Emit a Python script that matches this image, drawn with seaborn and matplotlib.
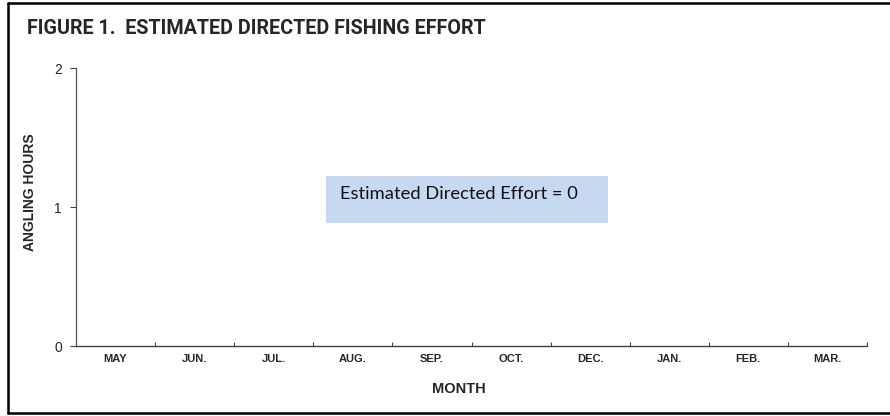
import numpy as np
import pandas as pd
import matplotlib
matplotlib.use("Agg")
import matplotlib.pyplot as plt
import seaborn as sns
from matplotlib.patches import Rectangle
from matplotlib.lines import Line2D

# data: directed effort is zero for every month
months = ["MAY", "JUN.", "JUL.", "AUG.", "SEP.", "OCT.", "DEC.", "JAN.", "FEB.", "MAR."]
angling_hours = [0, 0, 0, 0, 0, 0, 0, 0, 0, 0]
y_ticks = [0, 1, 2]
title = "FIGURE 1.  ESTIMATED DIRECTED FISHING EFFORT"
note = "Estimated Directed Effort = 0"

sns.set_theme(style="white")
plt.rcParams["font.family"] = ["Liberation Sans", "DejaVu Sans"]

df = pd.DataFrame({"month": months, "hours": angling_hours})

fig = plt.figure(figsize=(8.9, 4.16), dpi=100)
ax = fig.add_axes([76 / 890, 70 / 416, 791 / 890, 278 / 416])

sns.barplot(data=df, x="month", y="hours", color="#4F81BD", ax=ax)

ax.set_ylim(0, 2)
ax.set_xlim(-0.5, len(months) - 0.5)
ax.set_yticks(y_ticks)
ax.set_yticklabels([str(v) for v in y_ticks], fontsize=10)

# tick marks on category boundaries, labels centred under each category
ax.set_xticks(np.arange(-0.5, len(months), 1))
ax.set_xticklabels([])
ax.set_xticks(np.arange(len(months)), minor=True)
ax.set_xticklabels(months, minor=True, fontsize=8, fontweight="bold")
ax.tick_params(axis="x", which="major", direction="in", length=3, width=0.8,
               color="#404040", bottom=True)
ax.tick_params(axis="x", which="minor", length=0, pad=6)
ax.tick_params(axis="y", direction="out", length=4, width=0.8, color="#404040",
               left=True, pad=6)

for side in ["top", "right"]:
    ax.spines[side].set_visible(False)
ax.spines["left"].set_color("#555555")
ax.spines["bottom"].set_color("#404040")
ax.spines["left"].set_linewidth(0.9)
ax.spines["bottom"].set_linewidth(1.0)

ax.set_xlabel("MONTH", fontsize=10.5, fontweight="bold")
ax.xaxis.set_label_coords(383 / 791, -36 / 278)
ax.set_ylabel("ANGLING HOURS", fontsize=10, fontweight="bold")
ax.yaxis.set_label_coords(-39 / 791, 154 / 278)

# note box
ax.add_patch(Rectangle((250 / 791, 123 / 278), 282 / 791, 47 / 278,
                       transform=ax.transAxes, facecolor="#C6D9F0",
                       edgecolor="none", zorder=3))
ax.text(264 / 791, 152 / 278, note, transform=ax.transAxes, fontsize=13.2,
        family=["Lato", "DejaVu Sans"], va="center", ha="left", color="#111111",
        zorder=4)

fig.text(27 / 890, 1 - 29 / 416, title, fontsize=14.2, fontweight="bold",
         family=["Roboto", "DejaVu Sans"], va="center", ha="left")

# outer frame of the figure (right side runs off the image)
x0, y0, y1 = 8 / 890, 3 / 416, 413 / 416
for xs, ys in [([x0, x0], [y0, y1]), ([x0, 1.0], [y1, y1]), ([x0, 1.0], [y0, y0])]:
    fig.lines.append(Line2D(xs, ys, transform=fig.transFigure,
                            color="black", linewidth=1.8))

fig.savefig("out.png", dpi=100)
